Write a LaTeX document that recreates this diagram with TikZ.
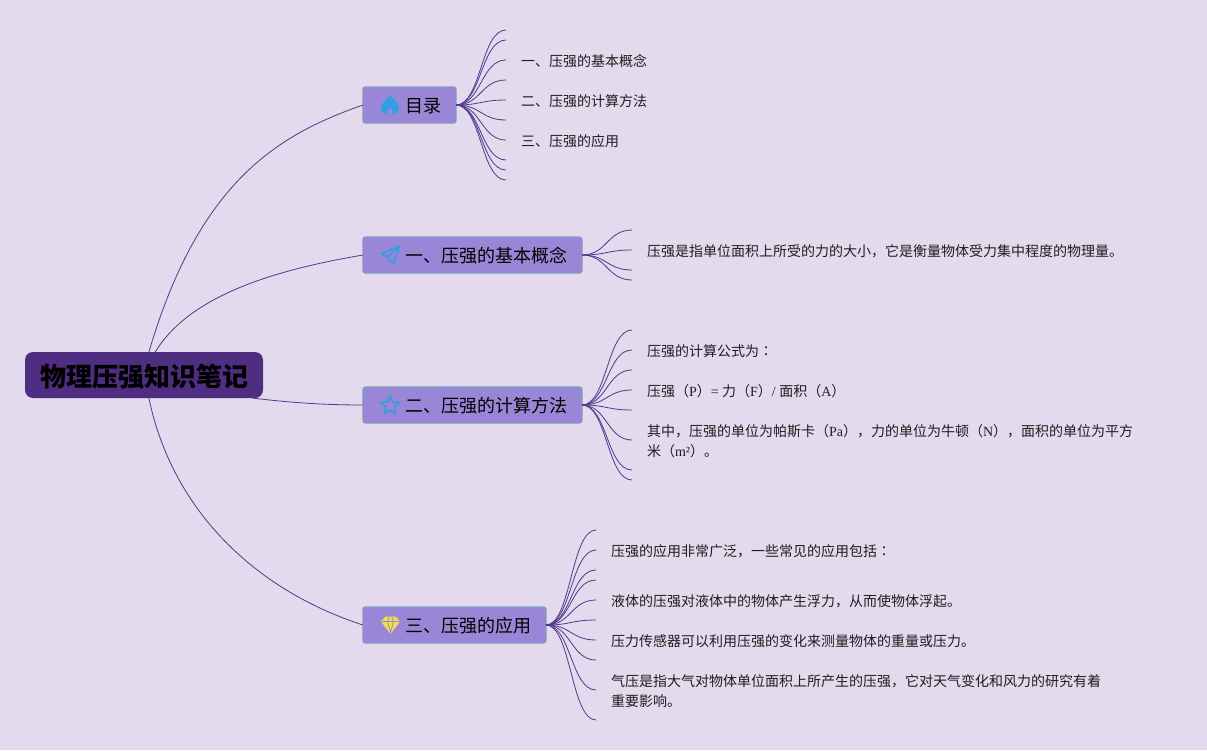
\documentclass[tikz,border=0pt]{standalone}
\usepackage{fontspec}
\setmainfont{Noto Sans CJK SC}
\newfontfamily\latinfont{Liberation Serif}
\newfontfamily\jpfont{Noto Sans CJK JP}
\usetikzlibrary{calc}
\definecolor{bgColor}{HTML}{E3DAED}
\definecolor{rootColor}{HTML}{4F2D80}
\definecolor{boxColor}{HTML}{9A86D6}
\definecolor{edgeColor}{HTML}{7F9DBB}
\definecolor{lineColor}{HTML}{4F3A8C}
\definecolor{iconColor}{HTML}{2E9FE0}
\definecolor{gemColor}{HTML}{EFE04A}
\definecolor{textColor}{HTML}{1E1E1E}
\newcommand{\ltn}[1]{{\latinfont #1}}
\newcommand{\midcolon}{{\jpfont ：}}
\tikzset{
	rootnode/.style={fill=rootColor, rounded corners=8pt, minimum width=238pt, minimum height=46pt,
		inner sep=0, outer sep=0, text height=25pt, text depth=2.2pt,
		font=\fontsize{26}{30}\bfseries\selectfont, text=black},
	branchbox/.style={draw=edgeColor, fill=boxColor, line width=1.2pt, rounded corners=2.5pt, anchor=west,
		inner xsep=15pt, inner ysep=0, minimum height=36pt, outer sep=0, text height=17pt, text depth=2pt,
		font=\fontsize{18}{22}\selectfont, text=black},
	leaftext/.style={anchor=west, align=left, inner sep=0, outer sep=0, yshift=-0.5pt,
		font=\fontsize{14}{20}\selectfont, text=textColor},
	mainline/.style={draw=lineColor, line width=0.8pt},
	fanline/.style={draw=lineColor, line width=0.8pt},
	iconline/.style={draw=iconColor, line width=1.5pt, line join=round},
	flame/.pic={
		\fill[iconColor] (0,10) .. controls (-6,10) and (-9,6) .. (-9,2) .. controls (-9,-2) and (-5,-3) .. (-3,-6)
			.. controls (-1.5,-8) and (-0.5,-9) .. (0,-10.5) .. controls (2,-6) and (9,-2) .. (9,3)
			.. controls (9,7) and (5,10) .. (0,10) -- cycle;
		\fill[boxColor] (0,10) .. controls (-2.5,10) and (-3.5,8) .. (-3,6.5) .. controls (-2.5,5) and (-1,4.5) .. (0,2.5)
			.. controls (1,4.5) and (2.7,5) .. (3.2,6.5) .. controls (3.7,8) and (2,10) .. (0,10) -- cycle;
	},
	plane/.pic={
		\draw[iconline] (9,-9) -- (-9,-1) -- (-3,2) -- cycle;
		\draw[iconline] (9,-9) -- (3,9) -- (-3,2);
	},
	hollowstar/.pic={
		\draw[iconline] (-90:10) -- (-54:4.5) -- (-18:10) -- (18:4.5) -- (54:10) -- (90:4.5)
			-- (126:10) -- (162:4.5) -- (198:10) -- (234:4.5) -- cycle;
	},
	gem/.pic={
		\fill[gemColor] (-5,-8) -- (5,-8) -- (9.5,-3) -- (0,9.5) -- (-9.5,-3) -- cycle;
		\draw[boxColor, line width=0.8pt] (-9,-3) -- (9,-3) (-3,-3) -- (0,8) -- (3,-3) (-3,-3) -- (-1.5,-7) (3,-3) -- (1.5,-7);
	}
}
\begin{document}
\begin{tikzpicture}[x=1pt,y=-1pt]
	\fill[bgColor] (0,0) rectangle (1207,750);
	\useasboundingbox (0,0) rectangle (1207,750);
	\node[rootnode] (root) at (144,375) {物理压强知识笔记};
	\node[branchbox] (b0) at (363,105) {\hspace*{27pt}目录};
	\node[branchbox] (b1) at (363,255) {\hspace*{27pt}一、压强的基本概念};
	\node[branchbox] (b2) at (363,405) {\hspace*{27pt}二、压强的计算方法};
	\node[branchbox] (b3) at (363,625) {\hspace*{27pt}三、压强的应用};
	\pic at (390,105) {flame};
	\pic at (390.5,255) {plane};
	\pic at (390,405.5) {hollowstar};
	\pic at (390.5,624.5) {gem};
	% texts
	\node[leaftext] (b0_1) at (521,61) {一、压强的基本概念};
	\node[leaftext] (b0_2) at (521,101) {二、压强的计算方法};
	\node[leaftext] (b0_3) at (521,141) {三、压强的应用};
	\node[leaftext] (b1_1) at (647,251) {压强是指单位面积上所受的力的大小，它是衡量物体受力集中程度的物理量。};
	\node[leaftext] (b2_1) at (647,351) {压强的计算公式为\midcolon};
	\node[leaftext] (b2_2) at (647,391) {压强（\ltn{P}）\ltn{= }力（\ltn{F}）\ltn{/ }面积（\ltn{A}）};
	\node[leaftext] (b2_3) at (647,441) {其中，压强的单位为帕斯卡（\ltn{Pa}），力的单位为牛顿（\ltn{N}），面积的单位为平方\\米（\ltn{m²}）。};
	\node[leaftext] (b3_1) at (611,551) {压强的应用非常广泛，一些常见的应用包括\midcolon};
	\node[leaftext] (b3_2) at (611,601) {液体的压强对液体中的物体产生浮力，从而使物体浮起。};
	\node[leaftext] (b3_3) at (611,641) {压力传感器可以利用压强的变化来测量物体的重量或压力。};
	\node[leaftext] (b3_4) at (611,691) {气压是指大气对物体单位面积上所产生的压强，它对天气变化和风力的研究有着\\重要影响。};
	% main curves
	\draw[mainline] (root.78) .. controls (199,182) and (277,135) .. (b0.west);
	\draw[mainline] (root.64) .. controls (190,295) and (275,270) .. (b1.west);
	\draw[mainline] (root.-12) .. controls (285,402) and (320,405) .. (b2.west);
	\draw[mainline] (root.-78) .. controls (172,510) and (255,590) .. (b3.west);
	% fans
	\foreach \y [count=\i] in {30,40,60,80,100,120,140,160,170,180} {
		\coordinate (f0_\i) at (506,\y);
		\draw[fanline] (b0.east) .. controls +(25,0) and +(-25,0) .. (f0_\i);
	}
	\foreach \y [count=\i] in {230,250,270,280} {
		\coordinate (f1_\i) at (632,\y);
		\draw[fanline] (b1.east) .. controls +(25,0) and +(-25,0) .. (f1_\i);
	}
	\foreach \y [count=\i] in {330,350,370,390,410,440,470,480} {
		\coordinate (f2_\i) at (632,\y);
		\draw[fanline] (b2.east) .. controls +(25,0) and +(-25,0) .. (f2_\i);
	}
	\foreach \y [count=\i] in {530,550,570,580,600,620,640,660,690,720} {
		\coordinate (f3_\i) at (596,\y);
		\draw[fanline] (b3.east) .. controls +(25,0) and +(-25,0) .. (f3_\i);
	}
\end{tikzpicture}
\end{document}
